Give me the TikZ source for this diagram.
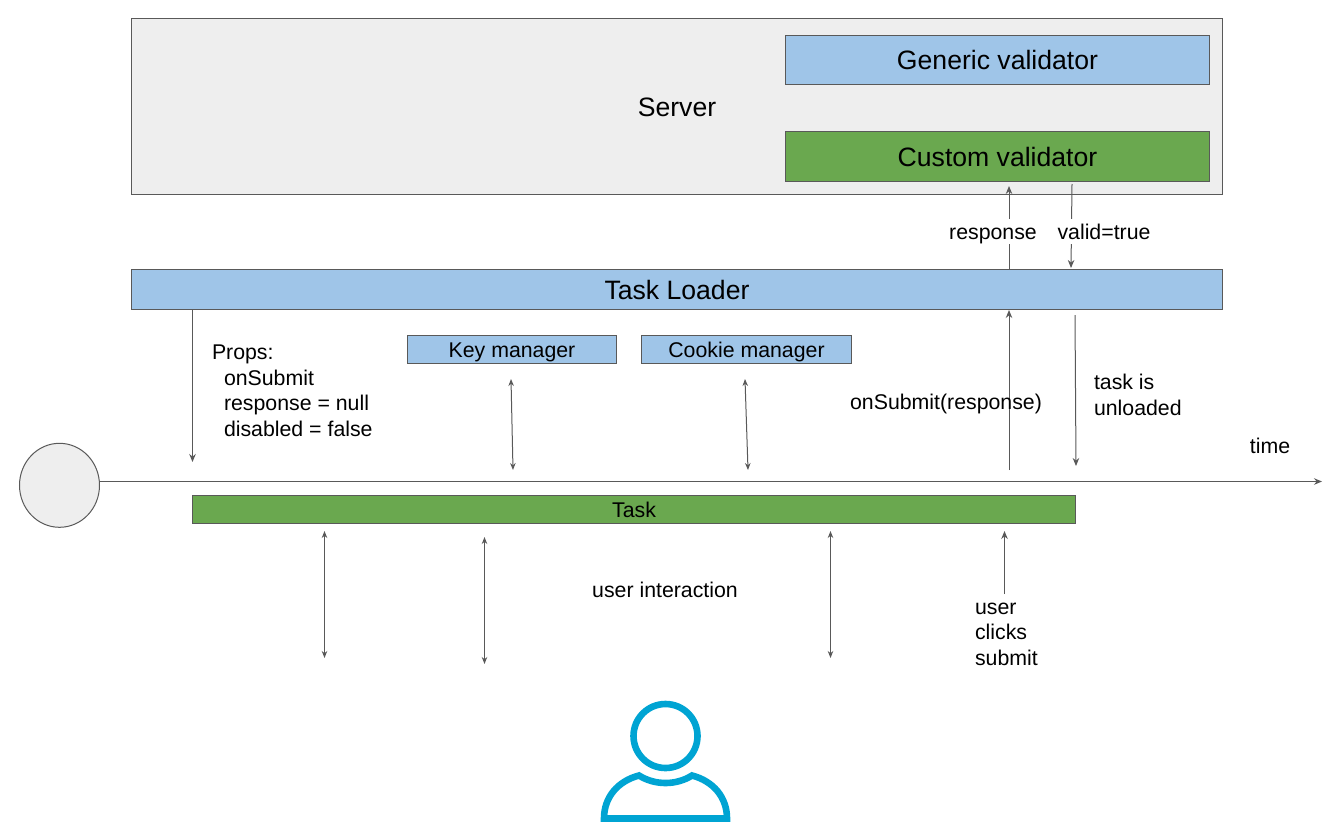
\documentclass[tikz,border=0pt]{standalone}
\usepackage{fontspec}
\setmainfont{Liberation Sans}
\usetikzlibrary{arrows.meta}
\definecolor{lineg}{HTML}{595959}
\definecolor{boxgrey}{HTML}{EEEEEE}
\definecolor{boxblue}{HTML}{9FC5E8}
\definecolor{boxgreen}{HTML}{6AA84F}
\definecolor{usercol}{HTML}{00A4D3}
\tikzset{
  box/.style={draw=lineg,line width=1pt,inner sep=0pt,outer sep=0pt,anchor=north west,align=center},
  bluebox/.style={box,fill=boxblue},
  greenbox/.style={box,fill=boxgreen},
  greybox/.style={box,fill=boxgrey},
  lab/.style={inner sep=0pt,outer sep=0pt,align=left,anchor=north west,text=black,font=\fontsize{21.3}{25.5}\selectfont},
  gaplab/.style={lab,anchor=center,fill=white,inner ysep=2pt,inner xsep=0pt,text height=18.5pt,text depth=3pt},
  conn/.style={draw=lineg,line width=1pt,-{Stealth[length=8pt,width=6.5pt]}},
  bi/.style={draw=lineg,line width=1pt,{Stealth[length=7pt,width=5.5pt]}-{Stealth[length=7pt,width=5.5pt]}},
  sizebig/.style={font=\fontsize{26.6}{30}\selectfont,text height=22pt,text depth=3pt},
  sizemid/.style={font=\fontsize{21.3}{25}\selectfont,text height=19pt,text depth=4pt}
}
\begin{document}
\begin{tikzpicture}[x=1pt,y=-1pt]
\useasboundingbox (0,0) rectangle (1335,833);
% boxes
\node[greybox,minimum width=1091pt,minimum height=176pt] (server) at (131.5,18.5) {};
\node[lab,anchor=center,font=\fontsize{26.6}{30}\selectfont] (serverlab) at (677,107) {Server};
\node[bluebox,sizebig,minimum width=424pt,minimum height=49pt] (generic) at (785.5,35.5) {Generic validator};
\node[greenbox,sizebig,minimum width=424pt,minimum height=50pt] (custom) at (785.5,131.5) {Custom validator};
\node[bluebox,sizebig,minimum width=1091pt,minimum height=40pt] (loader) at (131.5,269.5) {Task Loader};
\node[bluebox,sizemid,minimum width=209pt,minimum height=28pt] (key) at (407.5,335.5) {Key manager};
\node[bluebox,sizemid,minimum width=210pt,minimum height=28pt] (cookie) at (641.5,335.5) {Cookie manager};
\node[greenbox,sizemid,minimum width=883pt,minimum height=28pt] (task) at (192.5,495.5) {Task};
\node[draw=lineg,line width=1pt,fill=boxgrey,circle,minimum size=80pt,inner sep=0pt,outer sep=0pt,yscale=1.05] (start) at (59.5,485.3) {};
% coordinates
\coordinate (timeend) at (1322,481.5);
\coordinate (propsA) at (192.5,309);
\coordinate (propsB) at (192.5,462);
\coordinate (keyA) at (511,379);
\coordinate (keyB) at (513,470);
\coordinate (cookA) at (745,379);
\coordinate (cookB) at (748,470);
\coordinate (subA) at (1009,470);
\coordinate (subB) at (1009,310);
\coordinate (unA) at (1075,315);
\coordinate (unB) at (1076,466);
\coordinate (respA) at (1009,269);
\coordinate (respB) at (1009,186);
\coordinate (valA) at (1072,184);
\coordinate (valB) at (1071,268);
\coordinate (u1A) at (324.5,531);
\coordinate (u1B) at (324.5,658);
\coordinate (u2A) at (484.5,537);
\coordinate (u2B) at (484.5,664);
\coordinate (u3A) at (830.5,531);
\coordinate (u3B) at (830.5,658);
\coordinate (clickA) at (1004.5,594);
\coordinate (clickB) at (1004.5,531);
% connectors
\draw[conn] (start.east |- timeend) -- (timeend);
\draw[conn] (propsA) -- (propsB);
\draw[bi] (keyA) -- (keyB);
\draw[bi] (cookA) -- (cookB);
\draw[conn] (subA) -- (subB);
\draw[conn] (unA) -- (unB);
\draw[conn] (respA) -- (respB);
\draw[conn] (valA) -- (valB);
\draw[bi] (u1A) -- (u1B);
\draw[bi] (u2A) -- (u2B);
\draw[bi] (u3A) -- (u3B);
\draw[conn] (clickA) -- (clickB);
% labels
\node[gaplab] (resp) at (993,231.3) {response};
\node[gaplab] (valid) at (1104,231.3) {valid=true};
\node[lab] (props) at (212,345) {Props:\\\hspace*{12pt}onSubmit\\\hspace*{12pt}response = null\\\hspace*{12pt}disabled = false};
\node[lab,anchor=center] (onsub) at (946,404) {onSubmit(response)};
\node[lab] (unl) at (1094,374.5) {task is\\unloaded};
\node[lab,anchor=center] (time) at (1270,446) {time};
\node[lab,anchor=center] (ui) at (665,590) {user interaction};
\node[lab] (click) at (975,603) {user\\clicks\\submit};
% user icon
\draw[usercol,line width=6.6pt] (665.5,736) circle (32pt);
\draw[usercol,line width=6.6pt,line join=miter] (604,818.5) -- (727,818.5)
  .. controls (727,797) and (713,781) .. (692,775.5)
  .. controls (676,785.5) and (655,785.5) .. (639,775.5)
  .. controls (618,781) and (604,797) .. (604,818.5) -- cycle;
\end{tikzpicture}
\end{document}
